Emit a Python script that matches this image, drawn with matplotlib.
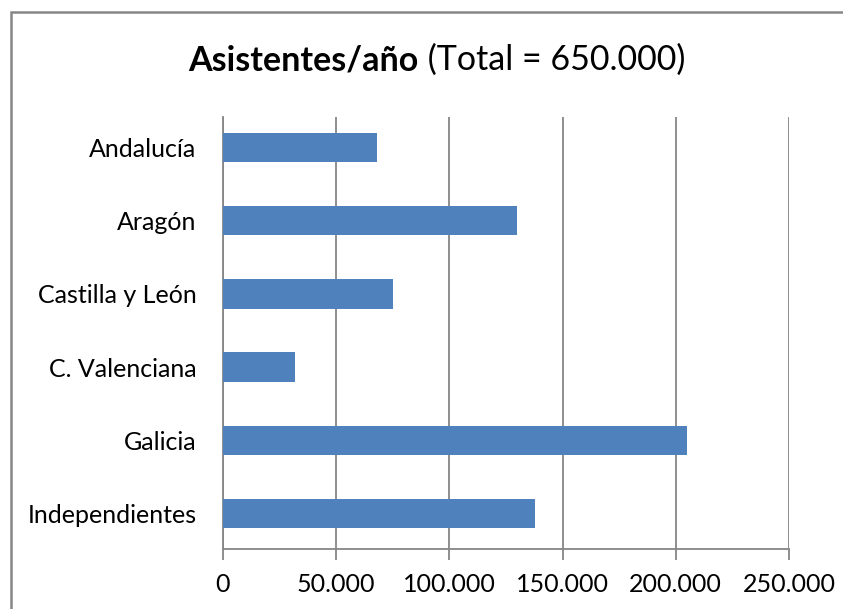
import matplotlib
matplotlib.use("Agg")
from matplotlib import pyplot as plt
from matplotlib.patches import Rectangle
from matplotlib.ticker import FuncFormatter

plt.rcParams['font.family'] = ['Lato', 'DejaVu Sans']

# datos
regiones = ["Andalucía", "Aragón", "Castilla y León", "C. Valenciana", "Galicia", "Independientes"]
asistentes = [68000, 130000, 75000, 32000, 205000, 138000]
ticks_x = [0, 50000, 100000, 150000, 200000, 250000]

W, H = 843, 609
fig = plt.figure(figsize=(W / 100, H / 100), dpi=100)
ax = fig.add_axes([223 / W, 1 - 549 / H, (789 - 223) / W, (549 - 117) / H])

gris = "#868686"
ax.barh(range(len(regiones)), asistentes, height=0.4, color="#4f81bd", zorder=3)
ax.set_ylim(5.486, -0.418)
ax.set_xlim(0, 250000)
ax.set_xticks(ticks_x)
ax.xaxis.set_major_formatter(FuncFormatter(lambda v, p: f"{int(v):,}".replace(",", ".")))
ax.set_yticks(range(len(regiones)))
ax.set_yticklabels(regiones)

ax.grid(axis="x", color=gris, linewidth=1.3, zorder=0)
for s in ["top", "right"]:
    ax.spines[s].set_visible(False)
for s in ["left", "bottom"]:
    ax.spines[s].set_color(gris)
    ax.spines[s].set_linewidth(1.3)
ax.tick_params(axis="x", length=8, width=1.3, color=gris, labelsize=18, pad=9)
ax.tick_params(axis="y", length=0, labelsize=18, pad=19)

# borde del gráfico
fig.patches.append(Rectangle((11 / W, -0.1), 1.2, 1 - 12 / H + 0.1, transform=fig.transFigure,
                             fill=False, edgecolor=gris, linewidth=1.8))

# título: parte en negrita + parte normal
renderer = fig.canvas.get_renderer()
t1 = fig.text(0, 1 - 60 / H, "Asistentes/año", fontsize=24.5, fontweight="bold", va="center")
t2 = fig.text(0, 1 - 60 / H, " (Total = 650.000)", fontsize=24.5, va="center")
w1 = t1.get_window_extent(renderer).width
w2 = t2.get_window_extent(renderer).width
x0 = 437 - (w1 + w2) / 2
t1.set_x(x0 / W)
t2.set_x((x0 + w1) / W)

fig.savefig("out.png", dpi=100)
